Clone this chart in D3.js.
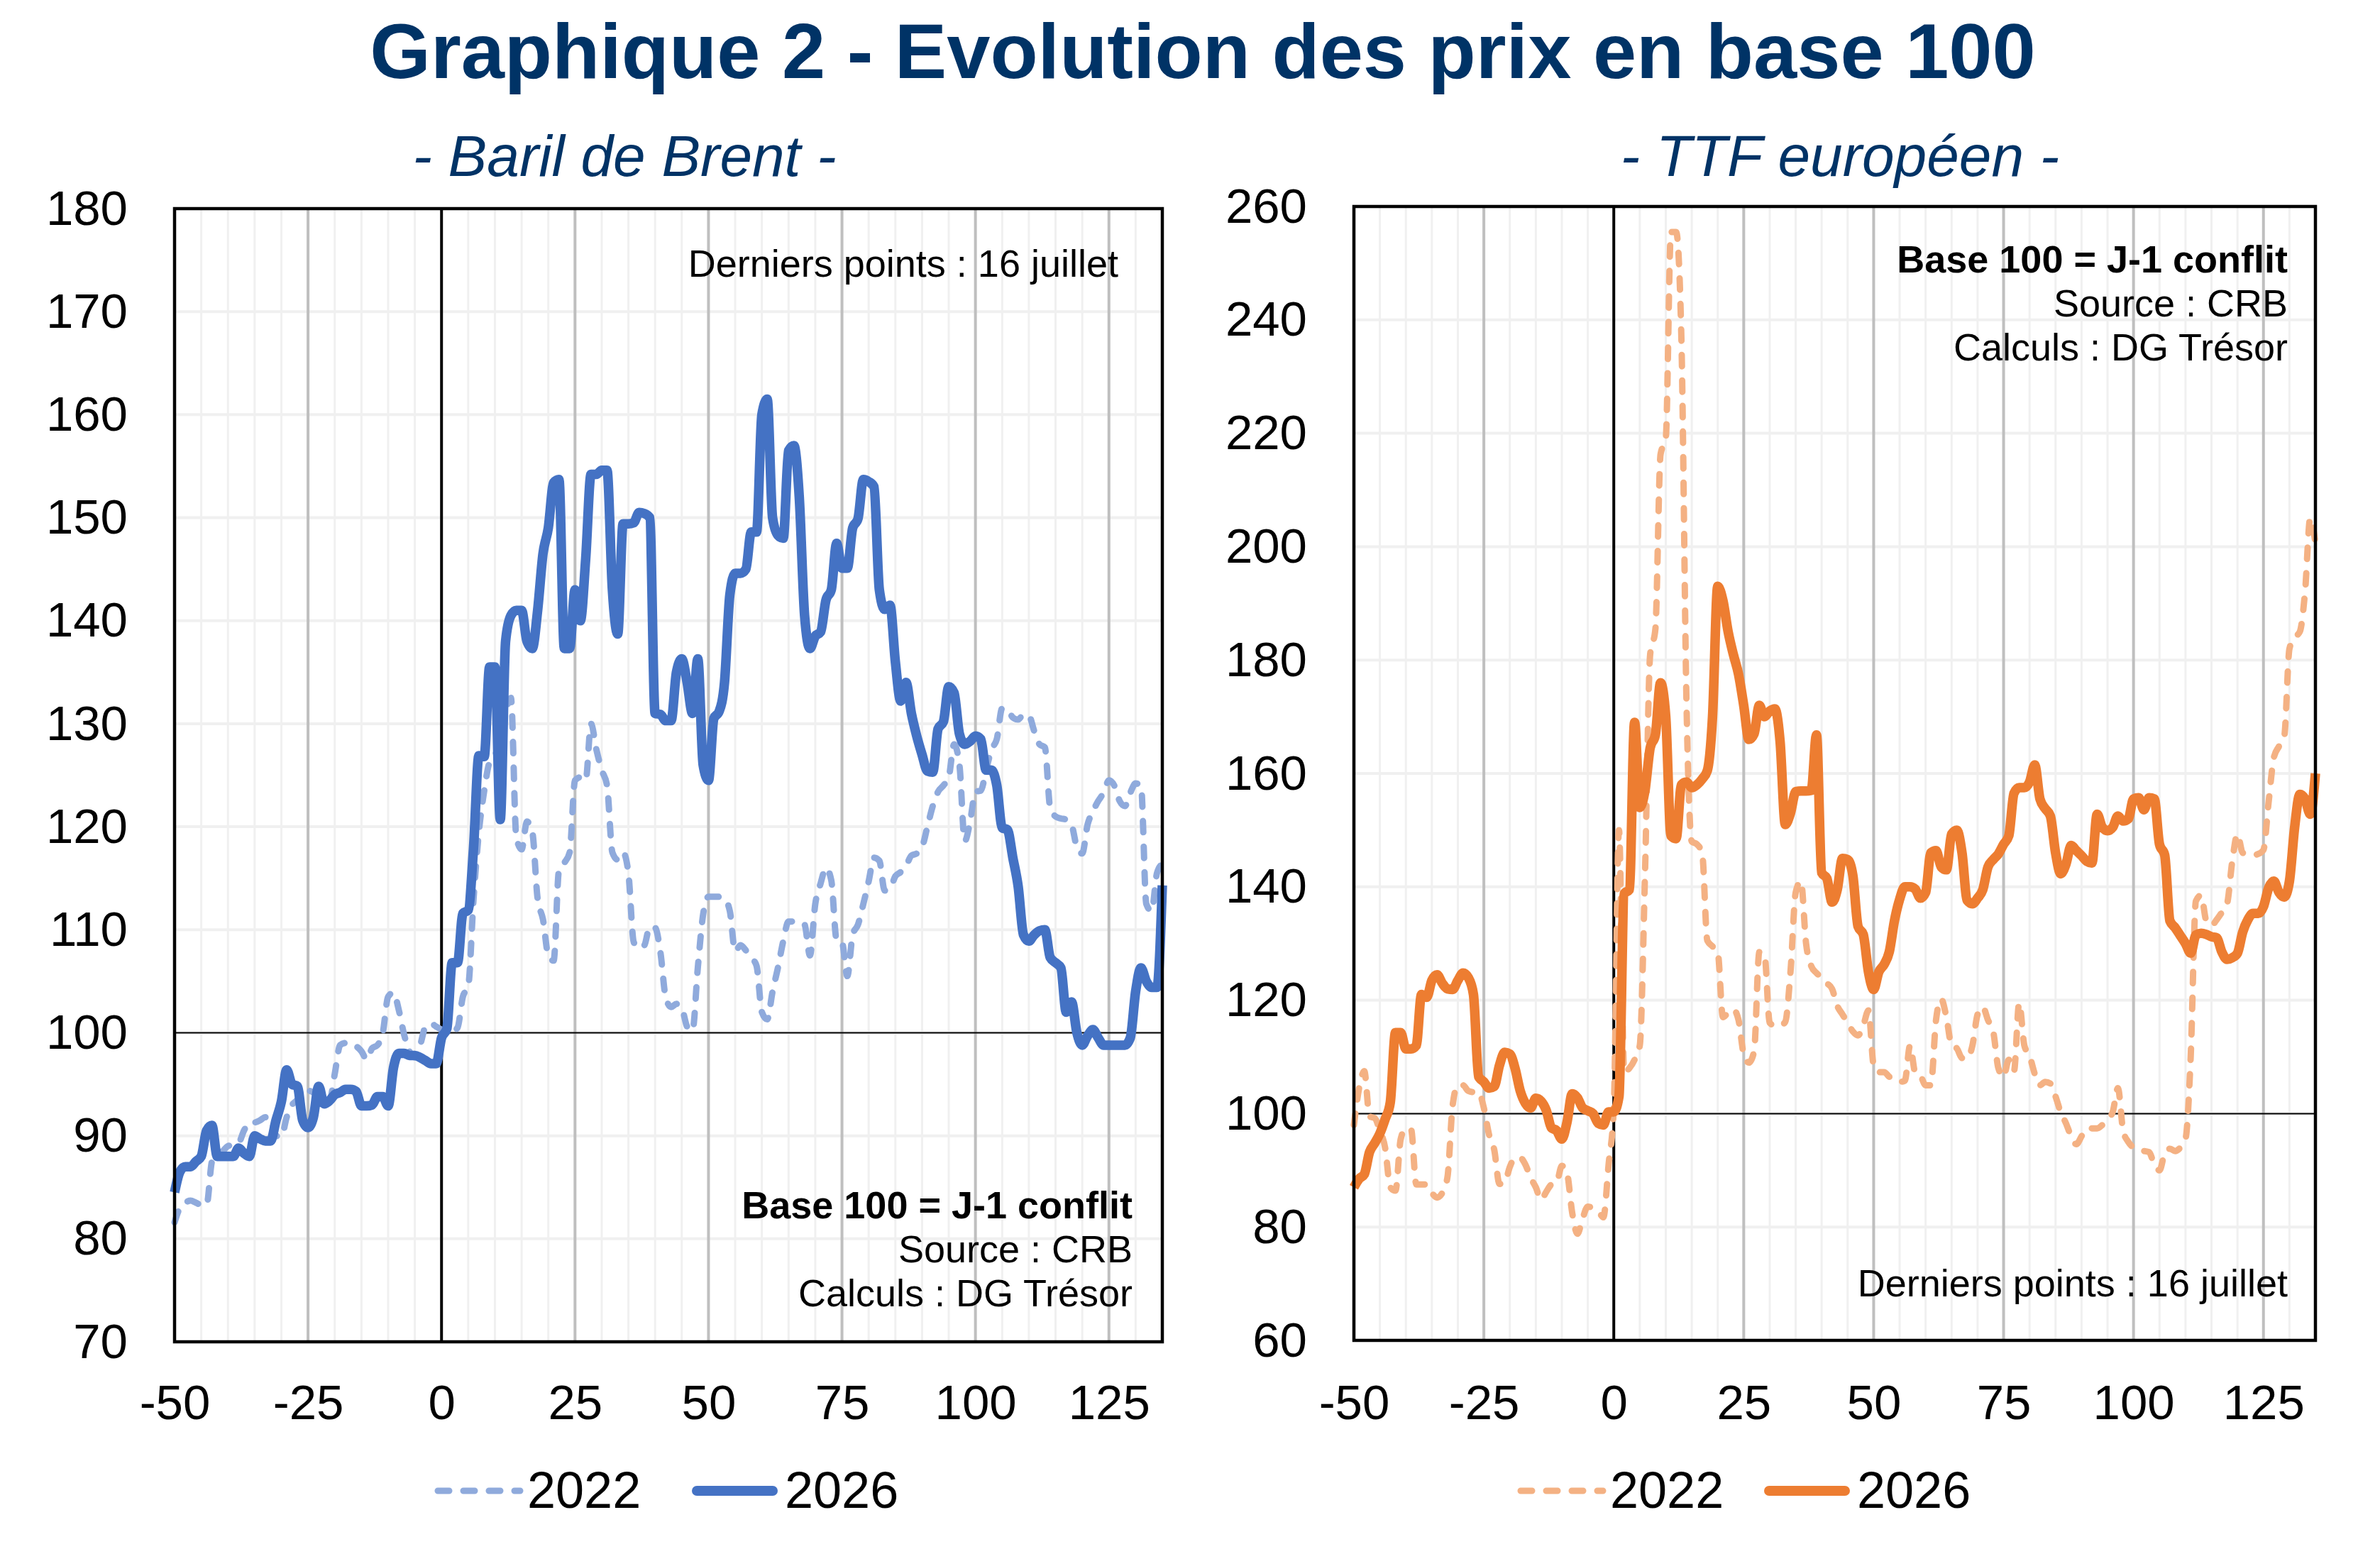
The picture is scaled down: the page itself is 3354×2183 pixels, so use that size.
<!DOCTYPE html>
<meta charset="utf-8">
<style>
  body { margin: 0; background: #fff; }
  svg { font-family: "Liberation Sans", Arial, sans-serif; background: #fff; }
</style>
<svg width="3354" height="2183"></svg>
<script src="https://d3js.org/d3.v7.min.js"></script>
<script>

  // days around the start of the conflict (J = 0), one value per day
  var days = d3.range(-50, 136);

  var brent2022 = [
    81.6, 83, 83.5, 83.7, 83.5, 83.3, 83.3, 87.5, 88.3, 88.5,
    89, 89.1, 89.3, 90.5, 91.3, 91.3, 91.5, 91.8, 91.8, 90,
    89.9, 91.8, 93, 93.5, 94.5, 94.4, 94.2, 93.8, 93.1, 93.3,
    96, 98.8, 99, 99, 98.7, 98.2, 97.4, 98.5, 98.8, 100,
    103.5, 103.9, 102.2, 99.8, 98.2, 97.6, 98.8, 100.6, 100.9, 100.6,
    100.3, 100.1, 100.1, 100.5, 103.5, 104.5, 113, 119.5, 123.5, 126.3,
    127, 128, 131, 132.5, 119, 117.8, 120.5, 119.5, 113, 111,
    107.5, 107, 115.8, 116.5, 117.5, 124.5, 124.8, 124.5, 130, 127.5,
    125.5, 124, 117.5, 116.8, 117.5, 115.5, 108.8, 108.2, 108.5, 110.3,
    110.2, 107.8, 103.4, 102.5, 102.8, 102.4, 100.6, 100.2, 106.3, 111.5,
    113.2, 113.2, 113.2, 113, 111.8, 107.9, 108.5, 108, 107.3, 106.5,
    102, 101.3, 104, 106.3, 108.9, 110.8, 110.8, 110.8, 110.5, 107.5,
    112.5, 114.5, 116, 114.8, 109, 108.8, 105.5, 109.5, 110.5, 112.5,
    114.7, 117, 116.7, 113.8, 114, 115.2, 115.6, 116.2, 117.2, 117.4,
    118, 120, 122, 123.4, 124, 124.8, 128, 126, 118.6, 120.5,
    123.4, 123.5, 125.5, 127.5, 128.5, 131.5, 131.4, 130.6, 130.4, 130.9,
    130.8, 129.3, 128, 127.7, 121.8, 121, 120.8, 120.7, 120.2, 118,
    117.4, 120.2, 121.5, 122.5, 123.3, 124.5, 124, 122.5, 122, 123.3,
    124.2, 124, 112.5, 111.8, 115.5, 116.4
  ];

  var brent2026 = [
    84.5, 86.5, 87, 87, 87.5, 88, 90.5, 91, 88, 88,
    88, 88, 88.8, 88.3, 88, 90, 89.7, 89.5, 89.5, 91.5,
    93.3, 96.4, 95, 94.8, 91.5, 90.8, 91.8, 94.8, 93.1, 93.4,
    94, 94.2, 94.5, 94.5, 94.3, 92.9, 92.9, 93, 93.8, 93.8,
    92.9, 96.6, 98, 98, 97.8, 97.8, 97.6, 97.3, 97, 97,
    99.5, 100.4, 106.8, 106.8, 111.6, 111.9, 118, 126.9, 126.8, 135.5,
    135.5, 120.7, 138, 140.5, 141, 141, 138, 137.3, 141, 146.5,
    149, 153.4, 153.7, 137.3, 137.3, 143, 140, 146, 154.2, 154.2,
    154.6, 154.6, 143, 138.7, 149.4, 149.4, 149.5, 150.5, 150.4, 150,
    131, 130.9, 130.3, 130.3, 135, 136.3, 134, 131, 136.3, 126,
    124.5, 130.5, 131.2, 134, 142.5, 144.6, 144.6, 145, 148.6, 148.6,
    160, 161.5, 150, 148.3, 148, 156.5, 157, 152, 140.5, 137.3,
    138.5, 138.9, 142, 143, 147.5, 145.1, 145.1, 149, 149.9, 153.7,
    153.5, 153, 143, 141.1, 141.5, 136, 132.2, 134, 131, 128.8,
    127, 125.4, 125.3, 129.5, 130.2, 133.6, 133, 129, 128, 128.3,
    128.8, 128.5, 125.5, 125.5, 124, 119.9, 119.7, 117, 114.2, 109.5,
    108.9, 109.5, 109.9, 110, 107.3, 106.8, 106.3, 102, 103, 100,
    98.8, 99.7, 100.3, 99.5, 98.8, 98.8, 98.8, 98.8, 98.8, 99.5,
    104, 106.3, 105, 104.4, 104.4, 114.3
  ];

  var ttf2022 = [
    98, 104.5, 107.5, 99.5, 99.2, 97, 94, 87, 86.4, 95.5,
    97.4, 97.2, 87.5, 87.5, 87.5, 86, 85.2, 86, 88.8, 101.5,
    105, 105, 104, 103.8, 103.8, 101, 96.3, 93.6, 87.6, 87.8,
    90.6, 92.2, 92.2, 91, 88.7, 87, 84.8, 86.2, 87.5, 87.8,
    90.8, 89.5, 82.5, 78.8, 81.5, 83.6, 83.3, 82.8, 81.7, 91,
    101, 150, 107.3, 108, 109.5, 112, 142, 181, 185.4, 216.3,
    219, 255.5, 255.5, 237, 172, 148, 147.5, 146, 130.5, 129.5,
    128.5, 117, 117.8, 118.4, 116.5, 110.5, 109, 111, 128.5, 128,
    116, 115.5, 115.5, 116.2, 125, 139, 141, 130, 126, 124.8,
    124, 123, 122, 119, 117.5, 116, 114.5, 113.8, 115.5, 118.2,
    108.5, 107.3, 107.3, 106.5, 105.8, 105.6, 105.8, 112, 107.2, 106.7,
    105, 105, 116.5, 120.2, 117, 112, 111.5, 109.8, 109.7, 112,
    117.5, 118.8, 116.5, 114.5, 108, 106.5, 109.5, 107.5, 119.5, 112,
    110.2, 107, 105, 105.6, 105.3, 103, 100.2, 98.3, 96, 94.6,
    96, 97.4, 97.4, 97.4, 98, 99, 100.3, 104.5, 97, 95,
    94, 93.5, 93.4, 93.2, 91, 90, 93, 93.8, 93.4, 94,
    95.5, 110, 137.5, 138.5, 134, 133.2, 134.2, 135.5, 137, 144.5,
    149.3, 146, 145.8, 145.6, 145.8, 146.5, 155, 162.8, 164.8, 166.5,
    182, 184, 185, 192, 205, 200.6
  ];

  var ttf2026 = [
    87, 88.5, 89.3, 93.2, 94.8, 96.5, 99, 102, 114.3, 114.3,
    111.4, 111.4, 112, 121, 120.5, 123.5, 124.5, 123, 122, 121.9,
    123.5, 124.8, 124, 121, 106.5, 105.6, 104.5, 104.8, 108.5, 110.8,
    110.5, 108, 104, 101.8, 101, 102.7, 102.2, 100.6, 97.5, 97,
    95.5, 98.5, 103.5, 102.8, 101, 100.5, 100, 98.3, 98, 100.3,
    100.3, 103, 138.8, 139.5, 169, 154, 157, 164.5, 166.8, 176,
    170, 149, 148.5, 158, 158.5, 157.5, 158, 159, 160.5, 170,
    193, 190.5, 185, 181, 177.5, 172, 166, 167, 172, 170,
    171, 171.4, 165.6, 151, 153, 156.8, 156.9, 156.9, 157, 166.8,
    142.5, 141.5, 137.3, 139.5, 145, 144.8, 142, 133, 131.6, 125,
    121.9, 125, 126.3, 128.5, 134, 137.8, 140, 140, 139.6, 138,
    139, 146, 146.4, 143.5, 143, 149.3, 150, 146, 137.6, 137,
    138, 139.5, 143.5, 144.8, 145.8, 147.5, 149, 156.5, 157.5, 157.5,
    158.5, 161.5, 155.5, 153.8, 152.5, 146, 142.3, 144, 147.3, 146.4,
    145.5, 144.5, 144.2, 152.8, 150.5, 149.9, 150.5, 152.5, 151.6, 152,
    155.5, 155.7, 153.6, 155.7, 155.5, 147.5, 145.6, 134, 132.8, 131.4,
    130, 128.3, 131.5, 131.8, 131.6, 131.2, 131, 128.5, 127.2, 127.5,
    128.3, 132, 134.2, 135.3, 135.3, 136.5, 139.8, 141, 139, 138.2,
    141, 150.5, 156.3, 155.5, 152.8, 160
  ];

  var xTicks = [-50, -25, 0, 25, 50, 75, 100, 125];
  var brentTicks = [70, 80, 90, 100, 110, 120, 130, 140, 150, 160, 170, 180];
  var ttfTicks = [60, 80, 100, 120, 140, 160, 180, 200, 220, 240, 260];
  var seriesNames = ["2022", "2026"];

  var notesBase = [
    { text: "Base 100 = J-1 conflit", bold: true },
    { text: "Source : CRB", bold: false },
    { text: "Calculs : DG Trésor", bold: false }
  ];
  var lastPoint = "Derniers points : 16 juillet";

  var svg = d3.select("svg");
  var navy = "#003366";
  var plain = function (d) { return String(d); }; // keep "-50", not "−50"

  svg.append("text")
    .attr("x", 1695).attr("y", 110)
    .attr("text-anchor", "middle")
    .attr("font-size", 110).attr("font-weight", "bold")
    .attr("fill", navy)
    .text("Graphique 2 - Evolution des prix en base 100");

  var panels = [
    {
      subtitle: "- Baril de Brent -", subX: 880,
      left: 246, right: 1638, top: 294, bottom: 1891,
      yDomain: [70, 180], yTicks: brentTicks,
      data: [brent2022, brent2026],
      colors: ["#8FAADC", "#4472C4"],
      legendX: [612, 975],
      notes: { x: 1596, y: 1717, lastX: 1576, lastY: 390 }
    },
    {
      subtitle: "- TTF européen -", subX: 2593,
      left: 1908, right: 3263, top: 291, bottom: 1889,
      yDomain: [60, 260], yTicks: ttfTicks,
      data: [ttf2022, ttf2026],
      colors: ["#F4B183", "#ED7D31"],
      legendX: [2138, 2486],
      notes: { x: 3224, y: 384, lastX: 3224, lastY: 1827 }
    }
  ];

  panels.forEach(function (p) {
    var x = d3.scaleLinear().domain([-50, 135]).range([p.left, p.right]);
    var y = d3.scaleLinear().domain(p.yDomain).range([p.bottom, p.top]);
    var g = svg.append("g");

    svg.append("text")
      .attr("x", p.subX).attr("y", 248)
      .attr("text-anchor", "middle")
      .attr("font-size", 82).attr("font-style", "italic")
      .attr("fill", navy)
      .text(p.subtitle);

    // minor vertical grid every 5 days
    g.selectAll(".vminor")
      .data(d3.range(-45, 136, 5).filter(function (d) { return d % 25 !== 0; }))
      .enter().append("line")
      .attr("x1", x).attr("x2", x)
      .attr("y1", p.top).attr("y2", p.bottom)
      .attr("stroke", "#F0F0F0").attr("stroke-width", 3);

    // horizontal grid
    g.selectAll(".hgrid")
      .data(p.yTicks.slice(1, -1))
      .enter().append("line")
      .attr("x1", p.left).attr("x2", p.right)
      .attr("y1", y).attr("y2", y)
      .attr("stroke", "#F0F0F0").attr("stroke-width", 4);

    // major vertical grid
    g.selectAll(".vmajor")
      .data([-25, 25, 50, 75, 100, 125])
      .enter().append("line")
      .attr("x1", x).attr("x2", x)
      .attr("y1", p.top).attr("y2", p.bottom)
      .attr("stroke", "#BFBFBF").attr("stroke-width", 4);

    g.append("line")
      .attr("x1", p.left).attr("x2", p.right)
      .attr("y1", y(100)).attr("y2", y(100))
      .attr("stroke", "#000").attr("stroke-width", 2);

    g.append("line")
      .attr("x1", x(0)).attr("x2", x(0))
      .attr("y1", p.top).attr("y2", p.bottom)
      .attr("stroke", "#000").attr("stroke-width", 4);

    var line = d3.line()
      .x(function (d, i) { return x(days[i]); })
      .y(function (d) { return y(d); })
      .curve(d3.curveMonotoneX);

    g.append("path")
      .datum(p.data[0])
      .attr("d", line)
      .attr("fill", "none")
      .attr("stroke", p.colors[0])
      .attr("stroke-width", 9)
      .attr("stroke-dasharray", "16 20")
      .attr("stroke-linecap", "round")
      .attr("stroke-linejoin", "round");

    g.append("path")
      .datum(p.data[1])
      .attr("d", line)
      .attr("fill", "none")
      .attr("stroke", p.colors[1])
      .attr("stroke-width", 13.5)
      .attr("stroke-linejoin", "round");

    g.append("rect")
      .attr("x", p.left).attr("y", p.top)
      .attr("width", p.right - p.left).attr("height", p.bottom - p.top)
      .attr("fill", "none").attr("stroke", "#000").attr("stroke-width", 4.5);

    // axes
    var yAxis = svg.append("g")
      .attr("transform", "translate(" + p.left + ",0)")
      .call(d3.axisLeft(y).tickValues(p.yTicks).tickFormat(plain).tickSize(0).tickPadding(66));
    var xAxis = svg.append("g")
      .attr("transform", "translate(0," + p.bottom + ")")
      .call(d3.axisBottom(x).tickValues(xTicks).tickFormat(plain).tickSize(0).tickPadding(60 + (1891 - p.bottom)));
    [yAxis, xAxis].forEach(function (a) {
      a.select(".domain").remove();
      a.selectAll("text")
        .attr("font-size", 69)
        .attr("font-family", "'Liberation Sans', Arial, sans-serif")
        .attr("fill", "#000");
    });

    // notes
    svg.append("g").selectAll("text")
      .data(notesBase)
      .enter().append("text")
      .attr("x", p.notes.x)
      .attr("y", function (d, i) { return p.notes.y + i * 62; })
      .attr("text-anchor", "end")
      .attr("font-size", 54)
      .attr("font-weight", function (d) { return d.bold ? "bold" : "normal"; })
      .text(function (d) { return d.text; });

    svg.append("text")
      .attr("x", p.notes.lastX).attr("y", p.notes.lastY)
      .attr("text-anchor", "end")
      .attr("font-size", 54)
      .text(lastPoint);

    // legend
    seriesNames.forEach(function (name, i) {
      var lx = p.legendX[i];
      svg.append("line")
        .attr("x1", lx + (i ? 7 : 5)).attr("x2", lx + 121 - (i ? 7 : 0))
        .attr("y1", 2101).attr("y2", 2101)
        .attr("stroke", p.colors[i])
        .attr("stroke-width", i ? 14 : 9)
        .attr("stroke-linecap", "round")
        .attr("stroke-dasharray", i ? null : "16 20");
      svg.append("text")
        .attr("x", lx + 131).attr("y", 2125)
        .attr("font-size", 72)
        .text(name);
    });
  });

</script>
